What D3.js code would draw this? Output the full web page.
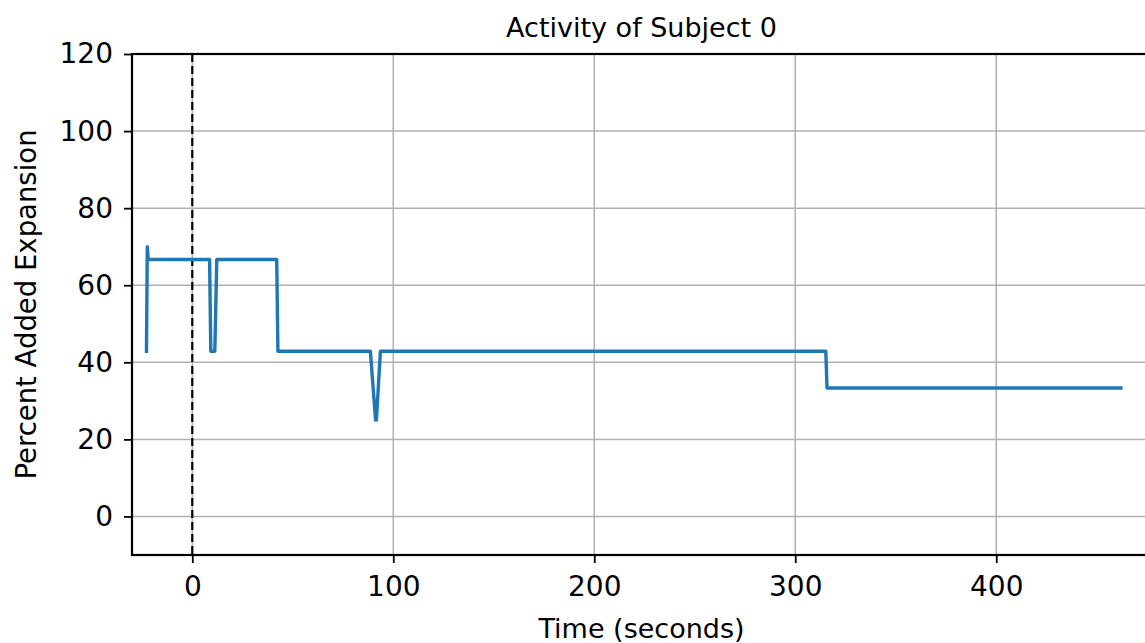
<!DOCTYPE html>
<html>
<head>
<meta charset="utf-8">
<script src="https://cdn.jsdelivr.net/npm/d3@7"></script>
<style>
  html, body { margin: 0; padding: 0; background: #fff; overflow: hidden; }
  svg { display: block; font-family: "DejaVu Sans", sans-serif; }
</style>
</head>
<body>
<svg id="chart" width="1145" height="643"></svg>
<script>
// Activity trace: time (s) and percent added expansion
const timeSec = [-22.8, -22.4, -21.9, 8.6, 9.2, 11.2, 12.2, 42.0, 42.6, 88.6, 91.2, 91.6, 93.6, 315.2, 315.8, 462];
const expansion = [42.86, 70.0, 66.67, 66.67, 42.86, 42.86, 66.67, 66.67, 42.86, 42.86, 25.0, 25.0, 42.86, 42.86, 33.33, 33.33];

const xTicks = [0, 100, 200, 300, 400];
const yTicks = [0, 20, 40, 60, 80, 100, 120];
const stimulusTime = 0;

const titleText = "Activity of Subject 0";
const xLabelText = "Time (seconds)";
const yLabelText = "Percent Added Expansion";

const plotL = 132, plotT = 54, plotB = 555, plotR = 1151;

const svg = d3.select("#chart");

const x = d3.scaleLinear().domain([-30, 477]).range([plotL, plotR]);
const y = d3.scaleLinear().domain([-10, 120]).range([plotB, plotT]);

// grid
const grid = svg.append("g");
grid.selectAll("line.gx").data(xTicks).join("line")
  .attr("class", "gx")
  .attr("x1", d => x(d)).attr("x2", d => x(d))
  .attr("y1", plotT).attr("y2", plotB)
  .attr("stroke", "#b0b0b0").attr("stroke-width", 1.5);
grid.selectAll("line.gy").data(yTicks).join("line")
  .attr("class", "gy")
  .attr("x1", plotL).attr("x2", plotR)
  .attr("y1", d => y(d)).attr("y2", d => y(d))
  .attr("stroke", "#b0b0b0").attr("stroke-width", 1.5);

// stimulus marker
svg.append("line")
  .attr("x1", x(stimulusTime)).attr("x2", x(stimulusTime))
  .attr("y1", plotT).attr("y2", plotB)
  .attr("stroke", "#000").attr("stroke-width", 2.2)
  .attr("stroke-dasharray", "8,4");

// trace
const pts = timeSec.map((t, i) => [t, expansion[i]]);
svg.append("path")
  .datum(pts)
  .attr("fill", "none")
  .attr("stroke", "#1f77b4")
  .attr("stroke-width", 3.4)
  .attr("stroke-linejoin", "round")
  .attr("stroke-linecap", "square")
  .attr("d", d3.line().x(d => x(d[0])).y(d => y(d[1])));

// axes
const xAxis = svg.append("g")
  .attr("transform", `translate(0,${plotB})`)
  .call(d3.axisBottom(x).tickValues(xTicks).tickSize(8).tickPadding(13).tickFormat(d3.format("d")));
const yAxis = svg.append("g")
  .attr("transform", `translate(${plotL},0)`)
  .call(d3.axisLeft(y).tickValues(yTicks).tickSize(8).tickPadding(11).tickFormat(d3.format("d")));

[xAxis, yAxis].forEach(g => {
  g.select(".domain").remove();
  g.selectAll(".tick line").attr("stroke", "#000").attr("stroke-width", 1.8);
  g.selectAll(".tick text")
    .attr("fill", "#000")
    .style("font-family", "'DejaVu Sans', sans-serif")
    .style("font-size", "28px");
});

// spines
svg.append("rect")
  .attr("x", plotL).attr("y", plotT)
  .attr("width", plotR - plotL).attr("height", plotB - plotT)
  .attr("fill", "none").attr("stroke", "#000").attr("stroke-width", 2.2);

// labels
svg.append("text")
  .attr("x", (plotL + plotR) / 2).attr("y", 37)
  .attr("text-anchor", "middle")
  .style("font-size", "27px")
  .text(titleText);

svg.append("text")
  .attr("x", (plotL + plotR) / 2).attr("y", 638)
  .attr("text-anchor", "middle")
  .style("font-size", "27px")
  .text(xLabelText);

svg.append("text")
  .attr("transform", `translate(36,${(plotT + plotB) / 2}) rotate(-90)`)
  .attr("text-anchor", "middle")
  .style("font-size", "27.5px")
  .text(yLabelText);
</script>
</body>
</html>
